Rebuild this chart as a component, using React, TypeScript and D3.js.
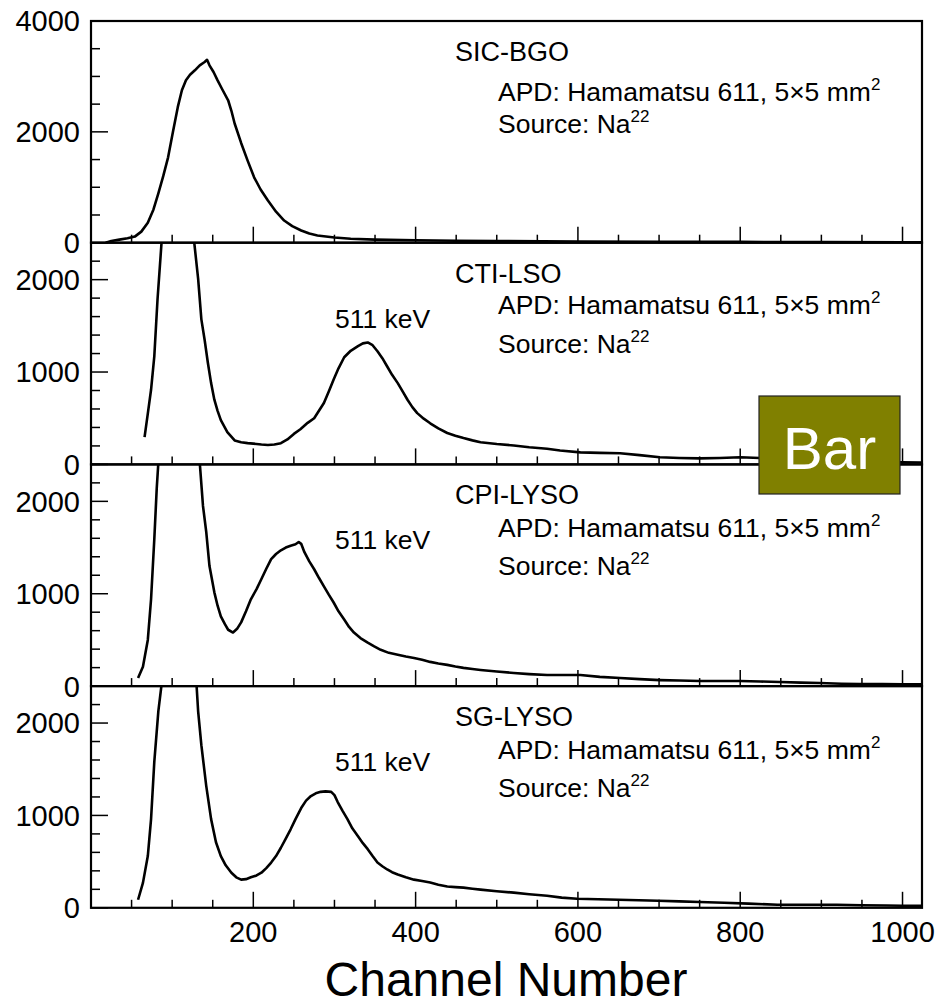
import React from "react";
import * as d3 from "d3";

// ---- data (channel, counts) ----
const sicBgoCh = [18,25,35,45,54,62,70,77,83,89,95,101,107,112,117,122,128,134,140,143,146,151,156,162,169,173,177,185,193,201,209,218,228,238,248,259,269,279,300,320,350,400,450,500,600,700,800,900,1000,1023];
const sicBgoVal = [0,30,55,80,110,200,360,600,890,1200,1540,2000,2450,2750,2930,3030,3110,3200,3260,3300,3200,3080,2930,2760,2570,2380,2150,1800,1480,1180,960,760,560,400,300,220,165,130,95,70,55,45,35,30,22,18,14,10,8,8];

const ctiLsoCh = [66,70,74,78,82,87,95,105,115,122,127,132,136,140,144,148,152,156,160,168,177,185,193,200,210,218,226,234,242,250,258,267,275,287,293,299,305,312,320,329,335,341,347,353,359,365,371,378,384,390,396,402,410,418,428,439,449,459,470,480,500,521,540,562,578,603,627,652,676,701,725,750,775,800,824,850,875,900,925,950,975,1000,1023];
const ctiLsoVal = [295,550,808,1170,1790,2410,4000,5000,4500,3300,2420,2010,1570,1350,1100,880,700,580,480,350,260,240,230,225,215,210,215,230,270,330,380,450,500,665,790,920,1040,1160,1230,1280,1310,1320,1290,1225,1150,1060,970,880,790,700,620,555,495,445,390,340,310,285,260,240,220,205,185,170,150,130,125,120,100,77,70,65,70,77,70,60,50,40,35,30,25,22,20];

const cpiLysoCh = [58,64,70,74,78,81,83,95,110,125,134,138,142,146,152,156,160,165,169,175,180,185,191,197,204,210,216,222,228,234,240,246,252,256,259,263,269,275,281,287,293,299,305,312,318,324,332,341,349,357,367,378,388,398,408,418,428,439,449,459,470,480,500,521,540,562,578,603,627,652,676,701,725,750,775,800,825,849,875,898,925,947,975,1000,1023];
const cpiLysoVal = [87,210,500,940,1590,2140,2420,4500,5500,4200,2420,1950,1670,1300,1015,870,755,670,610,580,620,690,810,940,1050,1160,1270,1375,1430,1470,1500,1520,1535,1560,1540,1450,1350,1265,1170,1080,990,905,810,720,640,580,520,470,430,393,360,340,320,305,285,262,245,230,212,197,185,175,158,142,130,120,120,120,100,87,75,65,60,55,55,55,50,44,38,33,26,22,21,20,20];

const sgLysoCh = [58,64,70,74,78,83,87,97,110,122,130,132,136,142,148,154,160,166,173,179,185,191,197,204,210,216,222,228,234,240,246,252,259,265,271,277,283,289,296,300,304,310,316,322,329,335,341,347,353,359,365,371,378,388,398,408,418,428,439,449,459,470,480,500,521,540,562,580,599,625,650,675,699,725,750,780,810,846,880,919,950,980,1000,1023];
const sgLysoVal = [87,270,560,960,1580,2130,2420,4800,5500,4200,2420,2130,1760,1320,960,710,560,460,380,330,305,310,330,350,380,430,490,560,650,750,850,960,1080,1160,1210,1240,1255,1260,1255,1220,1145,1050,960,860,775,700,635,560,490,450,415,385,360,330,305,290,273,250,230,224,218,207,197,180,164,147,131,110,98,92,87,82,76,70,62,55,45,33,33,33,28,25,22,22];

const crystalNames = ["SIC-BGO", "CTI-LSO", "CPI-LYSO", "SG-LYSO"];
const showPeakLabel = [false, true, true, true];
const yMaxes = [4000, 2400, 2400, 2400];
const yMajorTicks = [[0, 2000, 4000], [0, 1000, 2000], [0, 1000, 2000], [0, 1000, 2000]];
const yMinorSteps = [500, 200, 200, 200];
const xMajorTicks = [200, 400, 600, 800, 1000];
const xLabel = "Channel Number";
const apdText = "APD: Hamamatsu 611, 5\u00d75 mm";
const sourceText = "Source: Na";
const peakText = "511 keV";
const badgeText = "Bar";

const seriesCh = [sicBgoCh, ctiLsoCh, cpiLysoCh, sgLysoCh];
const seriesVal = [sicBgoVal, ctiLsoVal, cpiLysoVal, sgLysoVal];

// text baseline offsets from each panel's top
const titleOff = [40, 40, 40, 40];
const apdOff = [80, 71, 73, 73];
const srcOff = [112, 110, 111, 111];

const W = 937, H = 1007;
const left = 91, right = 922;
const top0 = 21, panelH = 221.7;
const font = "'Liberation Sans', Arial, Helvetica, sans-serif";

export default function App() {
  const x = d3.scaleLinear().domain([0, 1024]).range([left, right]);
  const xMinor = d3.range(50, 1024, 50);

  return (
    <svg width={W} height={H} style={{ position: "absolute", left: 0, top: 0, background: "#fff" }} fontFamily={font}>
      <defs>
        {crystalNames.map((_, i) => (
          <clipPath id={`clip${i}`} key={i}>
            <rect x={left} y={top0 + i * panelH} width={right - left} height={panelH} />
          </clipPath>
        ))}
      </defs>
      {crystalNames.map((name, i) => {
        const pt = top0 + i * panelH;
        const pb = pt + panelH;
        const y = d3.scaleLinear().domain([0, yMaxes[i]]).range([pb, pt]);
        const pts = seriesCh[i].map((c, k) => [c, seriesVal[i][k]] as [number, number]);
        const line = d3.line<[number, number]>().x((d) => x(d[0])).y((d) => y(d[1]));
        const yMinor = d3.range(0, yMaxes[i] + 1, yMinorSteps[i]).filter((v) => !yMajorTicks[i].includes(v));
        return (
          <g key={name}>
            <path d={line(pts) || ""} fill="none" stroke="#000" strokeWidth={2.6} strokeLinejoin="round" clipPath={`url(#clip${i})`} />
            {xMinor.map((t) => {
              const major = xMajorTicks.includes(t);
              return <line key={`xt${t}`} x1={x(t)} x2={x(t)} y1={pb} y2={pb - (major ? 16 : 8)} stroke="#000" strokeWidth={1.5} />;
            })}
            {yMinor.map((t) => (
              <line key={`ym${t}`} x1={left} x2={left + 9} y1={y(t)} y2={y(t)} stroke="#000" strokeWidth={1.5} />
            ))}
            {yMajorTicks[i].map((t) => (
              <g key={`yM${t}`}>
                <line x1={left} x2={left + 17} y1={y(t)} y2={y(t)} stroke="#000" strokeWidth={1.5} />
                <text x={80} y={y(t)} dy="0.36em" textAnchor="end" fontSize={29}>{t}</text>
              </g>
            ))}
            <rect x={left} y={pt} width={right - left} height={panelH} fill="none" stroke="#000" strokeWidth={2.2} />
            <text x={455} y={pt + titleOff[i]} fontSize={27}>{name}</text>
            <text x={498} y={pt + apdOff[i]} fontSize={26.5}>
              {apdText}
              <tspan dy={-11} fontSize={17}>2</tspan>
            </text>
            <text x={498} y={pt + srcOff[i]} fontSize={26.5}>
              {sourceText}
              <tspan dy={-11} fontSize={17}>22</tspan>
            </text>
            {showPeakLabel[i] && (
              <text x={335} y={pt + 85} fontSize={26.5}>{peakText}</text>
            )}
          </g>
        );
      })}
      {xMajorTicks.map((t) => (
        <text key={`xl${t}`} x={x(t)} y={942} textAnchor="middle" fontSize={29}>{t}</text>
      ))}
      <text x={506} y={996} textAnchor="middle" fontSize={48}>{xLabel}</text>
      <rect x={759} y={396} width={141} height={98} fill="#808000" stroke="#222" strokeWidth={1.2} />
      <text x={829.5} y={469} textAnchor="middle" fontSize={60} fill="#fff">{badgeText}</text>
    </svg>
  );
}
